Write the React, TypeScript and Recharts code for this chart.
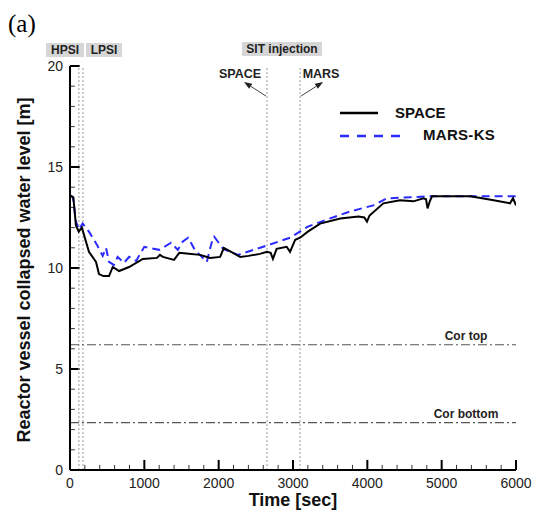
import React from 'react';
import { LineChart, Line, XAxis, YAxis, ReferenceLine } from 'recharts';

const FONT = '"Liberation Sans", Arial, sans-serif';

// SPACE calculation (black solid)
const spaceTime = [0, 45, 80, 117, 160, 255, 350, 390, 450, 525, 575, 660, 795, 980, 1170, 1210, 1250, 1400, 1470, 1600, 1750, 1885, 2020, 2070, 2290, 2400, 2555, 2650, 2700, 2730, 2780, 2915, 2960, 3030, 3095, 3200, 3365, 3635, 3880, 3960, 3995, 4030, 4215, 4440, 4620, 4755, 4790, 4810, 4840, 4870, 5385, 5700, 5920, 5960, 6000];
const spaceLevel = [13.6, 13.5, 12.1, 11.8, 12.0, 10.8, 10.3, 9.7, 9.6, 9.6, 10.05, 9.85, 10.05, 10.45, 10.5, 10.65, 10.55, 10.4, 10.75, 10.7, 10.65, 10.5, 10.55, 11.0, 10.55, 10.6, 10.7, 10.8, 10.75, 10.45, 10.95, 11.05, 10.8, 11.4, 11.5, 11.8, 12.2, 12.45, 12.55, 12.5, 12.3, 12.6, 13.2, 13.35, 13.3, 13.45, 13.4, 12.95, 13.3, 13.55, 13.55, 13.35, 13.2, 13.45, 13.1];

// MARS-KS calculation (blue dashed)
const marsTime = [0, 40, 80, 120, 170, 255, 370, 440, 485, 525, 590, 640, 725, 795, 890, 1000, 1200, 1360, 1450, 1515, 1590, 1680, 1840, 1905, 1940, 2060, 2260, 2600, 2960, 3200, 3455, 3770, 4080, 4260, 4575, 4845, 5400, 6000];
const marsLevel = [13.6, 13.5, 12.3, 11.9, 12.2, 11.8, 11.1, 10.6, 11.0, 10.3, 10.15, 10.55, 10.25, 10.55, 10.35, 11.05, 10.9, 11.25, 10.9, 11.3, 11.5, 10.9, 10.3, 11.25, 11.55, 10.95, 10.65, 11.05, 11.5, 12.05, 12.4, 12.8, 13.1, 13.45, 13.5, 13.55, 13.55, 13.55];

const xMajor = [0, 1000, 2000, 3000, 4000, 5000, 6000];
const xMinor = [200, 400, 600, 800, 1200, 1400, 1600, 1800, 2200, 2400, 2600, 2800, 3200, 3400, 3600, 3800, 4200, 4400, 4600, 4800, 5200, 5400, 5600, 5800];
const yMajor = [0, 5, 10, 15, 20];
const yMinor = [1, 2, 3, 4, 6, 7, 8, 9, 11, 12, 13, 14, 16, 17, 18, 19];

const injectionStart = [120, 175]; // HPSI, LPSI
const sitStart = [
  { t: 2650, name: 'SPACE', side: -1 },
  { t: 3095, name: 'MARS', side: 1 },
];
const coreLevels = [
  { y: 6.2, label: 'Cor top' },
  { y: 2.35, label: 'Cor bottom' },
];

const spaceData = spaceTime.map((t, i) => ({ t, level: spaceLevel[i] }));
const marsData = marsTime.map((t, i) => ({ t, level: marsLevel[i] }));

const renderTimeTick = (p: any) => (
  <text key={`xt-${p.payload.value}`} x={p.x} y={p.y + 18} textAnchor="middle" fontSize={14} fill="#222" fontFamily={FONT}>
    {p.payload.value}
  </text>
);

const renderLevelTick = (p: any) => (
  <text key={`yt-${p.payload.value}`} x={p.x - 7} y={p.y + 5} textAnchor="end" fontSize={14} fill="#222" fontFamily={FONT}>
    {p.payload.value}
  </text>
);

const sitLabel = (name: string, side: number) => (props: any) => {
  const { x, y } = props.viewBox;
  const x0 = x + side * 1;
  const y0 = y + 30;
  const x1 = x + side * 23;
  const y1 = y + 16;
  const len = Math.hypot(x1 - x0, y1 - y0);
  const dx = (x1 - x0) / len;
  const dy = (y1 - y0) / len;
  const bx = x1 - dx * 8;
  const by = y1 - dy * 8;
  const head = `${x1},${y1} ${bx - dy * 3},${by + dx * 3} ${bx + dy * 3},${by - dx * 3}`;
  return (
    <g>
      <text x={x + (side < 0 ? -27 : 21)} y={y + 12} textAnchor="middle" fontSize={12.5} fontWeight="bold" fill="#222" fontFamily={FONT}>
        {name}
      </text>
      <line x1={x0} y1={y0} x2={bx} y2={by} stroke="#444" strokeWidth={1} />
      <polygon points={head} fill="#222" />
    </g>
  );
};

const coreLabel = (label: string) => (props: any) => {
  const { x, y, width } = props.viewBox;
  return (
    <text x={x + width - 50} y={y - 5} textAnchor="middle" fontSize={12} fontWeight="bold" fill="#222" fontFamily={FONT}>
      {label}
    </text>
  );
};

const boxStyle: React.CSSProperties = {
  position: 'absolute',
  height: 14,
  background: '#d6d6d6',
  fontFamily: FONT,
  fontWeight: 'bold',
  fontSize: 12,
  lineHeight: '14px',
  textAlign: 'center',
  color: '#222',
};

// inward tick lengths in data units (20.2 px per metre, 0.0743 px per second)
const X_MAJOR_LEN = 0.5;
const X_MINOR_LEN = 0.25;
const Y_MAJOR_LEN = 130;
const Y_MINOR_LEN = 65;

export default function App() {
  return (
    <div style={{ position: 'absolute', left: 0, top: 0, width: 535, height: 514, background: '#fff' }}>
      <LineChart width={535} height={514} margin={{ top: 66, right: 19, bottom: 14, left: 30 }}>
        <XAxis
          dataKey="t"
          type="number"
          domain={[0, 6000]}
          ticks={xMajor}
          interval={0}
          tickSize={0}
          tickMargin={0}
          tickLine={false}
          tick={renderTimeTick}
          height={30}
          axisLine={{ stroke: '#000', strokeWidth: 2 }}
          allowDataOverflow
        />
        <XAxis xAxisId="top" orientation="top" type="number" domain={[0, 6000]} tick={false} height={0} axisLine={{ stroke: '#000', strokeWidth: 2 }} />
        <YAxis
          type="number"
          domain={[0, 20]}
          ticks={yMajor}
          interval={0}
          tickSize={0}
          tickMargin={0}
          tickLine={false}
          tick={renderLevelTick}
          width={40}
          axisLine={{ stroke: '#000', strokeWidth: 2 }}
          allowDataOverflow
        />
        <YAxis yAxisId="right" orientation="right" type="number" domain={[0, 20]} tick={false} width={0} axisLine={{ stroke: '#000', strokeWidth: 2 }} />

        {xMajor.map((t) => (
          <ReferenceLine key={`xM${t}`} segment={[{ x: t, y: 0 }, { x: t, y: X_MAJOR_LEN }]} stroke="#000" strokeWidth={2} ifOverflow="extendDomain" />
        ))}
        {xMinor.map((t) => (
          <ReferenceLine key={`xm${t}`} segment={[{ x: t, y: 0 }, { x: t, y: X_MINOR_LEN }]} stroke="#333" strokeWidth={1} ifOverflow="extendDomain" />
        ))}
        {yMajor.map((v) => (
          <ReferenceLine key={`yM${v}`} segment={[{ x: 0, y: v }, { x: Y_MAJOR_LEN, y: v }]} stroke="#000" strokeWidth={2} ifOverflow="extendDomain" />
        ))}
        {yMinor.map((v) => (
          <ReferenceLine key={`ym${v}`} segment={[{ x: 0, y: v }, { x: Y_MINOR_LEN, y: v }]} stroke="#333" strokeWidth={1} ifOverflow="extendDomain" />
        ))}

        {injectionStart.map((t) => (
          <ReferenceLine key={t} x={t} stroke="#999" strokeWidth={1} strokeDasharray="2 2" />
        ))}
        {sitStart.map((s) => (
          <ReferenceLine key={s.name} x={s.t} stroke="#999" strokeWidth={1} strokeDasharray="2 2" label={sitLabel(s.name, s.side)} />
        ))}
        {coreLevels.map((c) => (
          <ReferenceLine key={c.label} y={c.y} stroke="#555" strokeWidth={1.2} strokeDasharray="9 3 2 3" label={coreLabel(c.label)} />
        ))}

        <Line data={marsData} dataKey="level" type="linear" stroke="#2b2bff" strokeWidth={2} strokeDasharray="8 5" dot={false} isAnimationActive={false} />
        <Line data={spaceData} dataKey="level" type="linear" stroke="#000" strokeWidth={2} dot={false} isAnimationActive={false} />
      </LineChart>

      <div style={{ position: 'absolute', left: 8, top: 9, fontFamily: '"Liberation Serif", serif', fontSize: 25, lineHeight: '30px', color: '#000' }}>(a)</div>
      <div style={{ ...boxStyle, left: 46, top: 43, width: 38 }}>HPSI</div>
      <div style={{ ...boxStyle, left: 86, top: 43, width: 36 }}>LPSI</div>
      <div style={{ ...boxStyle, left: 242, top: 42, width: 80 }}>SIT injection</div>

      <svg style={{ position: 'absolute', left: 338, top: 104 }} width={70} height={40}>
        <line x1={2} y1={9} x2={40} y2={9} stroke="#000" strokeWidth={2.5} />
        <line x1={2} y1={32} x2={66} y2={32} stroke="#2b2bff" strokeWidth={2.5} strokeDasharray="9 8" />
      </svg>
      <div style={{ position: 'absolute', left: 395, top: 105, fontFamily: FONT, fontWeight: 'bold', fontSize: 15, lineHeight: '16px', color: '#111' }}>SPACE</div>
      <div style={{ position: 'absolute', left: 423, top: 127, fontFamily: FONT, fontWeight: 'bold', fontSize: 15, lineHeight: '16px', color: '#111', letterSpacing: 0.3 }}>MARS-KS</div>

      <div style={{ position: 'absolute', left: 24 - 200, top: 270 - 11, width: 400, height: 22, lineHeight: '22px', textAlign: 'center', transform: 'rotate(-90deg)', fontFamily: FONT, fontWeight: 'bold', fontSize: 18, color: '#111' }}>
        Reactor vessel collapsed water level [m]
      </div>
      <div style={{ position: 'absolute', left: 193, top: 489, width: 200, height: 22, lineHeight: '22px', textAlign: 'center', fontFamily: FONT, fontWeight: 'bold', fontSize: 18, color: '#111' }}>
        Time [sec]
      </div>
    </div>
  );
}
